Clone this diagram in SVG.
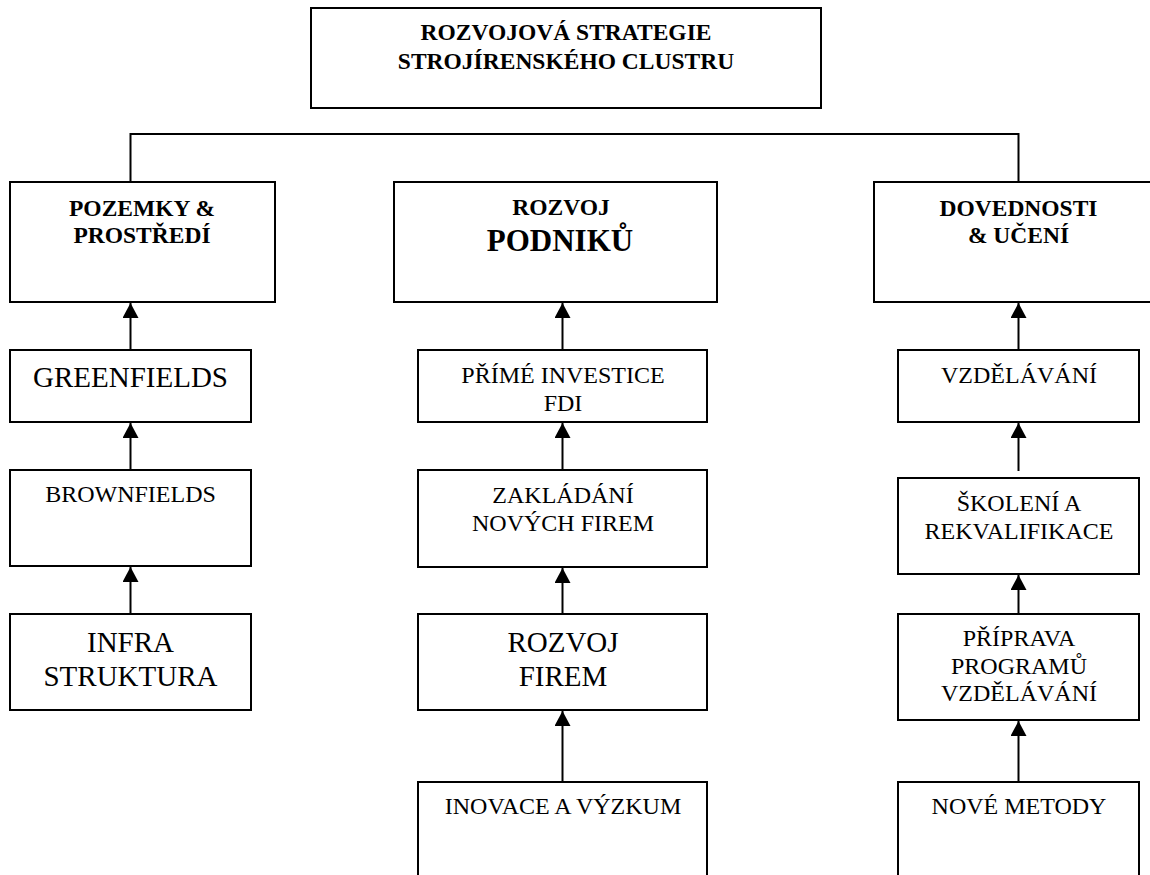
<svg xmlns="http://www.w3.org/2000/svg" width="1150" height="875" viewBox="0 0 1150 875">
<style>
.box{fill:#fff;stroke:#000;stroke-width:2}
.t{font-family:"Liberation Serif","Times New Roman",serif;fill:#000;text-anchor:middle}
.b{font-weight:bold;font-size:23.5px}
.r{font-size:24px}
.l{font-size:29px}
.c{fill:none;stroke:#000;stroke-width:2}
.a{stroke:#000;stroke-width:2;fill:none;marker-end:url(#ah)}
</style>
<defs>
<marker id="ah" markerUnits="userSpaceOnUse" markerWidth="16" markerHeight="16" viewBox="0 0 16 16" refX="15" refY="8" orient="auto">
<path d="M0,0 L15,8 L0,16 Z" fill="#000"/>
</marker>
</defs>
<rect width="1150" height="875" fill="#fff"/>
<g id="connectors">
<polyline class="c" points="130.5,182 130.5,134 1018.5,134 1018.5,182"/>
<line class="a" x1="130.5" y1="350" x2="130.5" y2="303"/>
<line class="a" x1="130.5" y1="470" x2="130.5" y2="423"/>
<line class="a" x1="130.5" y1="614" x2="130.5" y2="567"/>
<line class="a" x1="562.5" y1="350" x2="562.5" y2="303"/>
<line class="a" x1="562.5" y1="470" x2="562.5" y2="423"/>
<line class="a" x1="562.5" y1="614" x2="562.5" y2="568"/>
<line class="a" x1="562.5" y1="782" x2="562.5" y2="711"/>
<line class="a" x1="1018.5" y1="350" x2="1018.5" y2="303"/>
<line class="a" x1="1018.5" y1="471" x2="1018.5" y2="423"/>
<line class="a" x1="1018.5" y1="614" x2="1018.5" y2="575"/>
<line class="a" x1="1018.5" y1="782" x2="1018.5" y2="721"/>
</g>
<g id="top">
<rect class="box" x="311" y="8" width="510" height="100"/>
<text class="t b" x="566" y="40">ROZVOJOVÁ STRATEGIE</text>
<text class="t b" x="566" y="69">STROJÍRENSKÉHO CLUSTRU</text>
</g>
<g id="pozemky">
<rect class="box" x="10" y="182" width="265" height="120"/>
<text class="t b" x="142" y="215.5">POZEMKY &amp;</text>
<text class="t b" x="142" y="243">PROSTŘEDÍ</text>
</g>
<g id="greenfields">
<rect class="box" x="10" y="350" width="241" height="72"/>
<text class="t l" x="130.5" y="387">GREENFIELDS</text>
</g>
<g id="brownfields">
<rect class="box" x="10" y="470" width="241" height="96"/>
<text class="t r" x="130.5" y="502">BROWNFIELDS</text>
</g>
<g id="infra">
<rect class="box" x="10" y="614" width="241" height="96"/>
<text class="t l" x="130.5" y="651.5">INFRA</text>
<text class="t l" x="130.5" y="685.5">STRUKTURA</text>
</g>
<g id="rozvoj-podniku">
<rect class="box" x="394" y="182" width="323" height="120"/>
<text class="t b" x="561" y="215">ROZVOJ</text>
<text class="t" style="font-weight:bold;font-size:31px" x="560" y="250.5">PODNIKŮ</text>
</g>
<g id="prime-investice">
<rect class="box" x="418" y="350" width="289" height="72"/>
<text class="t r" x="563" y="383">PŘÍMÉ INVESTICE</text>
<text class="t r" x="563" y="410.5">FDI</text>
</g>
<g id="zakladani">
<rect class="box" x="418" y="470" width="289" height="97"/>
<text class="t r" x="563" y="502.5">ZAKLÁDÁNÍ</text>
<text class="t r" x="563" y="530.5">NOVÝCH FIREM</text>
</g>
<g id="rozvoj-firem">
<rect class="box" x="418" y="614" width="289" height="96"/>
<text class="t l" x="563" y="651.5">ROZVOJ</text>
<text class="t l" x="563" y="686">FIREM</text>
</g>
<g id="inovace">
<rect class="box" x="418" y="782" width="289" height="110"/>
<text class="t r" x="563" y="814">INOVACE A VÝZKUM</text>
</g>
<g id="dovednosti">
<rect class="box" x="874" y="182" width="290" height="120"/>
<text class="t b" x="1018.5" y="215.5">DOVEDNOSTI</text>
<text class="t b" x="1018.5" y="243">&amp; UČENÍ</text>
</g>
<g id="vzdelavani">
<rect class="box" x="898" y="350" width="241" height="72"/>
<text class="t r" x="1019" y="383">VZDĚLÁVÁNÍ</text>
</g>
<g id="skoleni">
<rect class="box" x="898" y="478" width="241" height="96"/>
<text class="t r" x="1019" y="511">ŠKOLENÍ A</text>
<text class="t r" x="1019" y="539">REKVALIFIKACE</text>
</g>
<g id="priprava">
<rect class="box" x="898" y="614" width="241" height="106"/>
<text class="t r" x="1019" y="646">PŘÍPRAVA</text>
<text class="t r" x="1019" y="673.5">PROGRAMŮ</text>
<text class="t r" x="1019" y="700.5">VZDĚLÁVÁNÍ</text>
</g>
<g id="nove-metody">
<rect class="box" x="898" y="782" width="241" height="110"/>
<text class="t r" x="1019" y="814">NOVÉ METODY</text>
</g>
</svg>
